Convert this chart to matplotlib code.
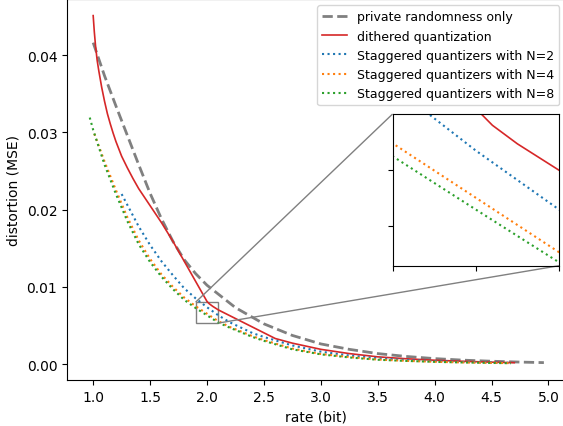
import matplotlib
matplotlib.use('Agg')
import matplotlib.pyplot as plt
from mpl_toolkits.axes_grid1.inset_locator import mark_inset

# private randomness only
gray_x = [1.0, 1.1, 1.2, 1.3, 1.4, 1.5, 1.6, 1.7, 1.8, 1.9, 2.0, 2.25, 2.5, 2.75,
          3.0, 3.25, 3.5, 3.75, 4.0, 4.25, 4.5, 4.75, 4.96]
gray_y = [0.0416, 0.0373, 0.0334, 0.0296, 0.0258, 0.0221, 0.0188, 0.0159, 0.0135,
          0.0117, 0.0102, 0.0073, 0.0052, 0.0037, 0.0026, 0.0019, 0.00135, 0.00098,
          0.0007, 0.0005, 0.00036, 0.00025, 0.00018]

# dithered quantization
red_x = [1.0, 1.01, 1.02, 1.035, 1.05, 1.075, 1.1, 1.125, 1.15, 1.175, 1.2, 1.25,
         1.3, 1.35, 1.4, 1.5, 1.6, 1.7, 1.8, 1.9, 2.0, 2.02, 2.05, 2.1, 2.3, 2.6,
         2.75, 3.0, 3.25, 3.5, 3.75, 4.0, 4.25, 4.5, 4.7]
red_y = [0.0451, 0.0430, 0.0413, 0.0393, 0.0379, 0.0358, 0.0340, 0.0324, 0.0311,
         0.0299, 0.0288, 0.0269, 0.0254, 0.0240, 0.0227, 0.0205, 0.0183, 0.0159,
         0.0133, 0.0107, 0.0081, 0.0078, 0.00747, 0.0070, 0.00552, 0.0033, 0.0027,
         0.0019, 0.00135, 0.00093, 0.00068, 0.00049, 0.00035, 0.00024, 0.00017]

# staggered quantizers, N=2
n2_x = [1.25, 1.3, 1.4, 1.5, 1.6, 1.7, 1.8, 1.9, 2.0, 2.1, 2.2, 2.3, 2.4, 2.5,
        2.75, 3.0, 3.25, 3.5, 3.75, 4.0, 4.25, 4.5, 4.67]
n2_y = [0.0220, 0.0206, 0.0178, 0.0154, 0.0133, 0.0115, 0.0098, 0.0085, 0.00735,
        0.0063, 0.0054, 0.0047, 0.0040, 0.0035, 0.0024, 0.0016, 0.0011, 0.00075,
        0.00052, 0.00038, 0.00027, 0.0002, 0.00015]

# staggered quantizers, N=4
n4_x = [1.01, 1.1, 1.2, 1.3, 1.4, 1.5, 1.6, 1.7, 1.8, 1.9, 2.0, 2.1, 2.2, 2.3,
        2.4, 2.5, 2.75, 3.0, 3.25, 3.5, 3.75, 4.0, 4.25, 4.5, 4.67]
n4_y = [0.0298, 0.0262, 0.0225, 0.0190, 0.0160, 0.0136, 0.0116, 0.0100, 0.0086,
        0.00748, 0.00651, 0.00554, 0.0048, 0.0042, 0.0036, 0.0031, 0.0020, 0.0013,
        0.0009, 0.00058, 0.00041, 0.00029, 0.0002, 0.00015, 0.00011]

# staggered quantizers, N=8
n8_x = [0.97, 1.0, 1.1, 1.2, 1.3, 1.4, 1.5, 1.6, 1.7, 1.8, 1.9, 2.0, 2.1, 2.2,
        2.3, 2.4, 2.5, 2.75, 3.0, 3.25, 3.5, 3.75, 4.0, 4.25, 4.5, 4.67]
n8_y = [0.0319, 0.0303, 0.0258, 0.0220, 0.0185, 0.0155, 0.0132, 0.0113, 0.0097,
        0.0083, 0.00725, 0.0063, 0.00536, 0.0047, 0.0041, 0.0035, 0.0030, 0.0019,
        0.00125, 0.00085, 0.00055, 0.0004, 0.00028, 0.0002, 0.00014, 0.0001]


def draw_curves(ax, labels=True):
    ax.plot(gray_x, gray_y, color='gray', ls='--', lw=2,
            label='private randomness only' if labels else None)
    ax.plot(red_x, red_y, color='tab:red', lw=1.2,
            label='dithered quantization' if labels else None)
    ax.plot(n2_x, n2_y, color='tab:blue', ls=':', lw=1.5,
            label='Staggered quantizers with N=2' if labels else None)
    ax.plot(n4_x, n4_y, color='tab:orange', ls=':', lw=1.5,
            label='Staggered quantizers with N=4' if labels else None)
    ax.plot(n8_x, n8_y, color='tab:green', ls=':', lw=1.5,
            label='Staggered quantizers with N=8' if labels else None)


fig = plt.figure(figsize=(5.63, 4.27), dpi=100)
ax = fig.add_axes([67 / 563, 46 / 427, 498.5 / 563, 381 / 427])
draw_curves(ax)
ax.set_xlim(0.77, 5.15)
ax.set_ylim(-0.00207, 0.04725)
ax.spines['right'].set_visible(False)
ax.set_xlabel('rate (bit)')
ax.set_ylabel('distortion (MSE)')
ax.legend(loc='upper right', fontsize=9)

# zoomed inset around rate 2
axins = ax.inset_axes([0.653, 0.30, 0.334, 0.398])
draw_curves(axins, labels=False)
axins.set_xlim(1.9, 2.1)
axins.set_ylim(0.0053, 0.008)
axins.set_xticks([1.9, 2.0, 2.1])
axins.set_yticks([0.006, 0.007])
axins.set_xticklabels([])
axins.set_yticklabels([])
mark_inset(ax, axins, loc1=2, loc2=4, fc='none', ec='0.5')

fig.savefig('out.png', dpi=100)
